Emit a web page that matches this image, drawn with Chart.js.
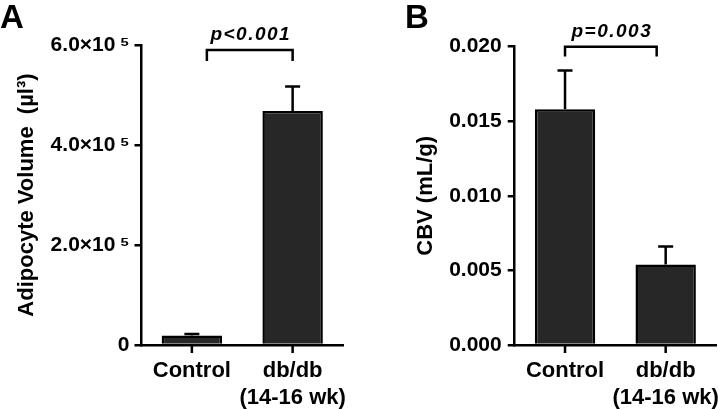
<!DOCTYPE html>
<html>
<head>
<meta charset="utf-8">
<script src="https://cdn.jsdelivr.net/npm/chart.js@4.4.1/dist/chart.umd.min.js"></script>
<style>
  html, body { margin: 0; padding: 0; background: #fff; }
  #wrap { position: relative; width: 718px; height: 409px; }
  .panel { position: absolute; top: 0; height: 409px; width: 359px; }
</style>
</head>
<body>
<div id="wrap">
  <div class="panel" style="left:0"><canvas id="chartA"></canvas></div>
  <div class="panel" style="left:359px"><canvas id="chartB"></canvas></div>
</div>
<script>
// shared categories
const categories = ['Control', ['db/db', '(14-16 wk)']];

// panel A - adipocyte volume
const volumeMean = [19000, 468000];
const volumeSem = [3000, 49000];
const yTickLabelsA = ['0', '2.0×10\u2009⁵', '4.0×10\u2009⁵', '6.0×10\u2009⁵'];
const pLabelA = 'p<0.001';
const bracketA = [590000, 568000];   // top, leg end

// panel B - CBV
const cbvMean = [0.0158, 0.0054];
const cbvSem = [0.0026, 0.0012];
const yTickLabelsB = ['0.000', '0.005', '0.010', '0.015', '0.020'];
const pLabelB = 'p=0.003';
const bracketB = [0.0200, 0.01935];

const FONT = "'Liberation Sans', Arial, Helvetica, sans-serif";

// error bars (upper half only) + x tick marks + significance bracket + panel letter
const annotPlugin = {
    id: 'annot',
    afterDatasetsDraw(chart, args, opts) {
        const ctx = chart.ctx;
        const x = chart.scales.x;
        const y = chart.scales.y;
        const meta = chart.getDatasetMeta(0);

        ctx.save();
        ctx.strokeStyle = '#000';
        ctx.lineWidth = 2.5;
        ctx.lineCap = 'butt';
        opts.sem.forEach((e, i) => {
            const bar = meta.data[i];
            const v = chart.data.datasets[0].data[i];
            const yTop = y.getPixelForValue(v + e);
            ctx.beginPath();
            ctx.moveTo(bar.x, bar.y);
            ctx.lineTo(bar.x, yTop);
            ctx.moveTo(bar.x - 7.5, yTop);
            ctx.lineTo(bar.x + 7.5, yTop);
            // tick mark below the axis
            ctx.moveTo(bar.x, chart.chartArea.bottom);
            ctx.lineTo(bar.x, chart.chartArea.bottom + 8);
            ctx.stroke();
        });

        // bracket
        const bx0 = x.getPixelForValue(0) + opts.bracketInset[0];
        const bx1 = x.getPixelForValue(1) - opts.bracketInset[1];
        const by0 = y.getPixelForValue(opts.bracket[0]);
        const by1 = y.getPixelForValue(opts.bracket[1]);
        ctx.lineJoin = 'miter';
        ctx.beginPath();
        ctx.moveTo(bx0, by1);
        ctx.lineTo(bx0, by0);
        ctx.lineTo(bx1, by0);
        ctx.lineTo(bx1, by1);
        ctx.stroke();

        ctx.fillStyle = '#000';
        ctx.font = 'italic bold 19px ' + FONT;
        ctx.letterSpacing = '1.5px';
        ctx.textAlign = 'center';
        ctx.textBaseline = 'alphabetic';
        ctx.fillText(opts.pText, (bx0 + bx1) / 2 + 1, by0 - 10);

        ctx.letterSpacing = '0px';
        ctx.textAlign = 'left';
        ctx.font = 'bold 33px ' + FONT;
        ctx.fillText(opts.letter, opts.letterX, 28);
        ctx.restore();
    }
};

function makeChart(id, values, sem, tickLabels, yMax, yStep, yTitle, cfg) {
    const ctx = document.getElementById(id).getContext('2d');
    return new Chart(ctx, {
        type: 'bar',
        data: {
            labels: categories,
            datasets: [{
                data: values,
                backgroundColor: '#272727',
                borderColor: '#000',
                borderWidth: 2.5,
                barPercentage: 0.6,
                categoryPercentage: 1.0
            }]
        },
        options: {
            responsive: true,
            maintainAspectRatio: false,
            animation: false,
            layout: { padding: { top: cfg.top, right: cfg.right, left: 0, bottom: 0 } },
            scales: {
                x: {
                    offset: true,
                    grid: { display: false },
                    border: { display: true, color: '#000', width: 2.5 },
                    ticks: {
                        color: '#000',
                        padding: 4,
                        autoSkip: false,
                        maxRotation: 0,
                        font: { family: FONT, size: 22, weight: 'bold', lineHeight: 1.25 }
                    },
                    afterFit(scale) {
                        scale.height = 64;
                        // let the long second label run past the edge, as in the figure
                        scale.paddingLeft = 0;
                        scale.paddingRight = 0;
                    }
                },
                y: {
                    min: 0,
                    max: yMax,
                    ticks: {
                        stepSize: yStep,
                        color: '#000',
                        padding: cfg.tickPad,
                        font: { family: FONT, size: 21, weight: 'bold' },
                        callback: (v, i) => tickLabels[i]
                    },
                    grid: {
                        drawOnChartArea: false,
                        drawTicks: true,
                        tickLength: 7,
                        color: '#000',
                        tickColor: '#000',
                        tickWidth: 2.5,
                        lineWidth: 2.5
                    },
                    border: { color: '#000', width: 2.5 },
                    title: {
                        display: true,
                        text: yTitle,
                        color: '#000',
                        padding: { top: cfg.titlePad, bottom: 0 },
                        font: { family: FONT, size: 22, weight: 'bold', lineHeight: 1.2 }
                    },
                    afterFit(scale) {
                        scale.width = cfg.axisWidth;
                        scale.paddingTop = 0;
                        scale.paddingBottom = 0;
                    }
                }
            },
            plugins: {
                legend: { display: false },
                tooltip: { enabled: false },
                annot: cfg.annot
            }
        },
        plugins: [annotPlugin]
    });
}

makeChart('chartA', volumeMean, volumeSem, yTickLabelsA, 600000, 200000,
    'Adipocyte Volume  (µl³)', {
        top: 45, right: 16, axisWidth: 141.5, tickPad: 5, titlePad: 14,
        annot: { sem: volumeSem, bracket: bracketA, bracketInset: [15, 0], pText: pLabelA, letter: 'A', letterX: 0 }
    });

makeChart('chartB', cbvMean, cbvSem, yTickLabelsB, 0.020, 0.005,
    'CBV (mL/g)', {
        top: 46.7, right: 2, axisWidth: 155.7, tickPad: 6, titlePad: 54,
        annot: { sem: cbvSem, bracket: bracketB, bracketInset: [0, 9], pText: pLabelB, letter: 'B', letterX: 46 }
    });
</script>
</body>
</html>
